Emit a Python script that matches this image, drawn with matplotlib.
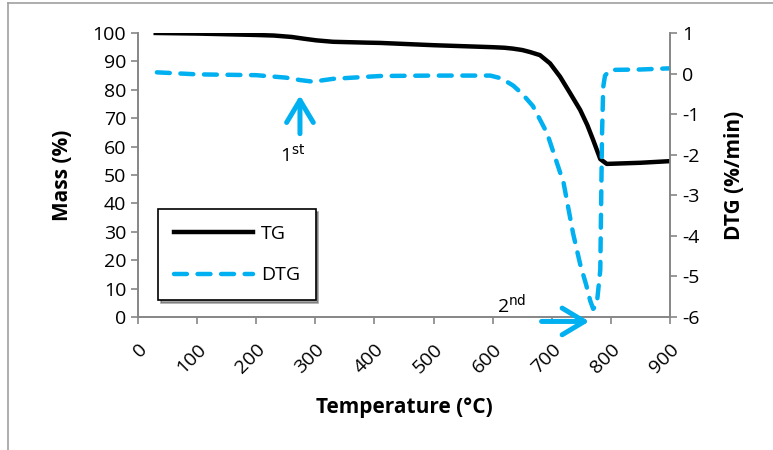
import matplotlib.pyplot as plt
from matplotlib.lines import Line2D

plt.rcParams['font.family'] = ['Open Sans', 'DejaVu Sans']
plt.rcParams['axes.unicode_minus'] = False

# TG curve (mass %)
tg_temp = [30, 100, 161, 200, 230, 260, 280, 302, 330, 387, 410, 500, 600, 620, 634, 650, 663, 680, 697, 714, 731, 748, 760, 770, 782, 793, 850, 902]
tg_mass = [100, 99.8, 99.5, 99.3, 99.1, 98.6, 98.0, 97.4, 96.9, 96.6, 96.5, 95.7, 95.0, 94.8, 94.5, 94.0, 93.3, 92.2, 89.3, 84.6, 78.8, 72.9, 67.6, 62.3, 55.6, 53.9, 54.3, 54.9]

# DTG curve (%/min)
dtg_temp = [32, 100, 200, 250, 274, 296, 330, 387, 410, 500, 596, 615, 635, 650, 668, 692, 720, 736, 748, 758, 765, 770, 776, 782, 785, 787, 790, 799, 850, 902]
dtg_val = [0.03, -0.02, -0.04, -0.1, -0.16, -0.2, -0.13, -0.08, -0.06, -0.05, -0.05, -0.12, -0.3, -0.5, -0.8, -1.47, -2.7, -3.94, -4.7, -5.2, -5.6, -5.8, -5.7, -4.84, -1.47, -0.33, -0.05, 0.09, 0.1, 0.13]

x_ticks = list(range(0, 1000, 100))
mass_ticks = list(range(0, 110, 10))
dtg_ticks = list(range(-6, 2))

blue = '#00B0F0'
grey = '#868686'

fig = plt.figure(figsize=(7.73, 4.5), dpi=100)
ax = fig.add_axes([0.1785, 0.2956, 0.6883, 0.6311])
ax2 = ax.twinx()

ax.plot(tg_temp, tg_mass, color='black', lw=3.2, label='TG', zorder=3)
ax2.plot(dtg_temp, dtg_val, color=blue, lw=3.2, dashes=(2.9, 2.4),
         dash_capstyle='round', label='DTG')

ax.set_xlim(0, 900)
ax.set_ylim(0, 100)
ax2.set_ylim(-6, 1)
ax.set_xticks(x_ticks)
ax.set_yticks(mass_ticks)
ax2.set_yticks(dtg_ticks)
ax.set_xticklabels([str(t) for t in x_ticks], rotation=45, ha='right', va='top',
                   rotation_mode='anchor')

for a in (ax, ax2):
    a.spines['top'].set_visible(False)
    for s in ('left', 'right', 'bottom'):
        a.spines[s].set_color(grey)
        a.spines[s].set_linewidth(1.2)
    a.tick_params(colors=grey, labelcolor='black', labelsize=14, width=1.2, length=5)
ax.tick_params(axis='x', pad=12)

ax.set_ylabel('Mass (%)', fontsize=15, fontweight='bold', labelpad=14)
ax2.set_ylabel('DTG (%/min)', fontsize=15, fontweight='bold', labelpad=18)
ax.set_xlabel('Temperature (°C)', fontsize=15, fontweight='bold', labelpad=14)

# peak annotations
arrow = dict(arrowstyle='->,head_length=1.0,head_width=0.6', color=blue, lw=3.6,
             mutation_scale=16)
ax2.annotate('', xy=(274, -0.47), xytext=(274, -1.55), arrowprops=arrow)
ax2.text(261, -2.0, '1$^{\\mathrm{st}}$', fontsize=14, ha='center', va='center')
ax2.annotate('', xy=(768, -6.11), xytext=(678, -6.11), arrowprops=arrow,
             annotation_clip=False)
ax2.text(633, -5.72, '2$^{\\mathrm{nd}}$', fontsize=14, ha='center', va='center')

h1, l1 = ax.get_legend_handles_labels()
h2, l2 = ax2.get_legend_handles_labels()
leg = ax.legend(h1 + h2, l1 + l2, loc='lower left', bbox_to_anchor=(0.0376, 0.06),
                fontsize=14, frameon=True, fancybox=False, shadow=True,
                edgecolor='black', handlelength=4.1, labelspacing=1.2,
                borderpad=0.8, handletextpad=0.4, borderaxespad=0)
leg.get_frame().set_linewidth(1.2)

# outer chart frame
fig.add_artist(Line2D([8 / 773, 8 / 773], [0, 1 - 3 / 450], color='#a0a0a0', lw=1.2))
fig.add_artist(Line2D([8 / 773, 1], [1 - 3 / 450, 1 - 3 / 450], color='#a0a0a0', lw=1.2))

fig.savefig('out.png', dpi=100)
